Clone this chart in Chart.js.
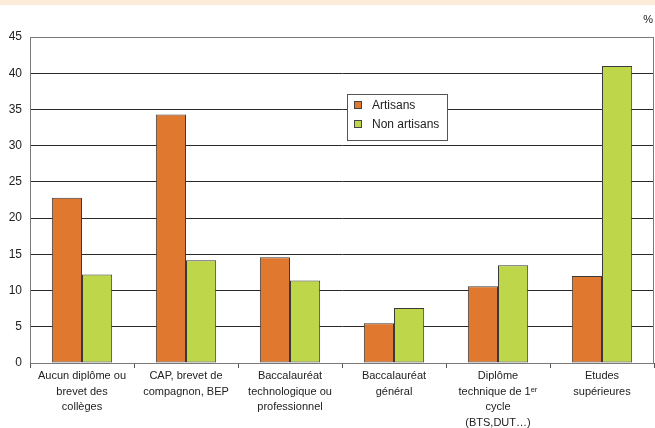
<!DOCTYPE html>
<html>
<head>
<meta charset="utf-8">
<script src="https://cdn.jsdelivr.net/npm/chart.js@4/dist/chart.umd.min.js"></script>
<style>
  html, body { margin: 0; padding: 0; background: #fff; }
  canvas { display: block; }
</style>
</head>
<body>
<canvas id="chart" width="655" height="428"></canvas>
<script>
const categories = [
  ["Aucun diplôme ou", "brevet des", "collèges"],
  ["CAP, brevet de", "compagnon, BEP"],
  ["Baccalauréat", "technologique ou", "professionnel"],
  ["Baccalauréat", "général"],
  ["Diplôme", "technique de 1ᵉʳ", "cycle", "(BTS,DUT…)"],
  ["Etudes", "supérieures"]
]
const artisans = [22.8, 34.3, 14.6, 5.5, 10.6, 12.0]
const nonArtisans = [12.2, 14.2, 11.4, 7.6, 13.5, 41.0]
const yTicks = [0, 5, 10, 15, 20, 25, 30, 35, 40, 45]

const font = "'Liberation Sans', Arial, sans-serif"

// page band, frame, unit and legend box
const decor = {
  id: "decor",
  beforeDraw(chart) {
    const ctx = chart.ctx
    ctx.save()
    ctx.fillStyle = "#fdebd9"
    ctx.fillRect(0, 0, chart.width, 5)
    ctx.restore()
  },
  afterDraw(chart) {
    const ctx = chart.ctx
    const a = chart.chartArea
    ctx.save()
    ctx.strokeStyle = "#7a7a7a"
    ctx.lineWidth = 1
    ctx.strokeRect(a.left + 0.5, a.top + 0.5, a.right - a.left - 1, a.bottom - a.top)

    ctx.fillStyle = "#222"
    ctx.font = "11px " + font
    ctx.textAlign = "right"
    ctx.textBaseline = "middle"
    ctx.fillText("%", 653, 20)

    // legend
    ctx.fillStyle = "#fff"
    ctx.fillRect(347, 94, 100, 46)
    ctx.strokeStyle = "#555"
    ctx.strokeRect(347.5, 94.5, 100, 46)
    const items = [["Artisans", "#e1782f", 105], ["Non artisans", "#bed64a", 124]]
    ctx.font = "12px " + font
    ctx.textAlign = "left"
    items.forEach(([txt, col, y]) => {
      ctx.fillStyle = col
      ctx.fillRect(354, y - 3, 7, 7)
      ctx.strokeStyle = "#444"
      ctx.strokeRect(354.5, y - 3.5, 7, 7)
      ctx.fillStyle = "#222"
      ctx.fillText(txt, 372, y + 0.5)
    })
    ctx.restore()
  }
}

new Chart(document.getElementById("chart"), {
  type: "bar",
  data: {
    labels: categories,
    datasets: [
      {
        label: "Artisans",
        data: artisans,
        backgroundColor: "#e1782f",
        borderColor: "#3a3a3a",
        borderWidth: 1,
        borderSkipped: false
      },
      {
        label: "Non artisans",
        data: nonArtisans,
        backgroundColor: "#bed64a",
        borderColor: "#3a3a3a",
        borderWidth: 1,
        borderSkipped: false
      }
    ]
  },
  options: {
    responsive: false,
    animation: false,
    devicePixelRatio: 1,
    datasets: { bar: { categoryPercentage: 0.58, barPercentage: 1 } },
    layout: { padding: { top: 37, right: 1, left: 0, bottom: 0 } },
    plugins: {
      legend: { display: false },
      tooltip: { enabled: false }
    },
    scales: {
      x: {
        grid: { offset: true, drawOnChartArea: false, tickLength: 5, color: "#555" },
        border: { color: "#555" },
        ticks: { color: "#222", font: { family: font, size: 11, lineHeight: 1.43 }, padding: 0, maxRotation: 0, autoSkip: false },
        afterFit(scale) { scale.height = 65 }
      },
      y: {
        min: 0,
        max: 45,
        afterBuildTicks(scale) { scale.ticks = yTicks.map(v => ({ value: v })) },
        grid: { color: "#2a2a2a", drawTicks: false },
        border: { color: "#7a7a7a" },
        ticks: { color: "#222", font: { family: font, size: 12 }, padding: 8, autoSkip: false },
        afterFit(scale) { scale.width = 30 }
      }
    }
  },
  plugins: [decor]
})
</script>
</body>
</html>
